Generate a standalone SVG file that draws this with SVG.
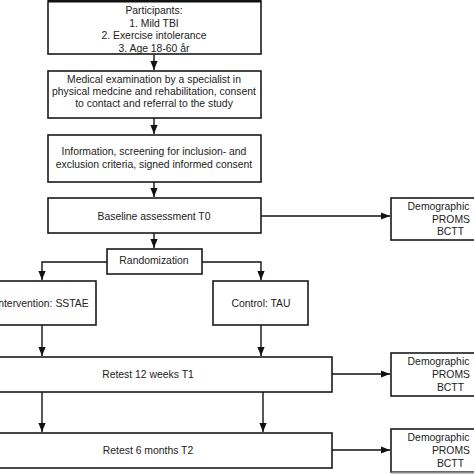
<svg xmlns="http://www.w3.org/2000/svg" width="474" height="474" viewBox="0 0 474 474">
<defs>
<style>
.box{fill:#fff;stroke:#1a1a1a;stroke-width:1.6}
.t{font-family:"Liberation Sans",Arial,sans-serif;font-size:10.4px;fill:#222;text-anchor:middle}
.ln{fill:none;stroke:#111;stroke-width:1.4}
</style>
<marker id="ah" viewBox="0 0 10 8" refX="10" refY="4" markerWidth="9" markerHeight="7.5" markerUnits="userSpaceOnUse" orient="auto">
<path d="M0,0 L10,4 L0,8 z" fill="#111"/>
</marker>
</defs>
<rect width="474" height="474" fill="#fff"/>
<g id="connectors">
<line class="ln" x1="154" y1="55" x2="154" y2="70" marker-end="url(#ah)"/>
<line class="ln" x1="154" y1="118" x2="154" y2="134" marker-end="url(#ah)"/>
<line class="ln" x1="154" y1="182" x2="154" y2="197" marker-end="url(#ah)"/>
<line class="ln" x1="261" y1="216" x2="390" y2="216" marker-end="url(#ah)"/>
<line class="ln" x1="154" y1="233" x2="154" y2="248" marker-end="url(#ah)"/>
<polyline class="ln" points="107,262 42,262 42,280" marker-end="url(#ah)"/>
<polyline class="ln" points="202,262 261,262 261,280" marker-end="url(#ah)"/>
<line class="ln" x1="42" y1="325" x2="42" y2="356" marker-end="url(#ah)"/>
<line class="ln" x1="261" y1="325" x2="261" y2="356" marker-end="url(#ah)"/>
<line class="ln" x1="332" y1="374" x2="390" y2="374" marker-end="url(#ah)"/>
<line class="ln" x1="42" y1="392" x2="42" y2="432" marker-end="url(#ah)"/>
<line class="ln" x1="263" y1="392" x2="263" y2="432" marker-end="url(#ah)"/>
<line class="ln" x1="332" y1="450" x2="390" y2="450" marker-end="url(#ah)"/>
</g>
<g id="participants">
<rect class="box" x="48" y="1" width="213" height="53"/>
<line x1="48" y1="1" x2="261" y2="1" stroke="#111" stroke-width="3"/>
<text class="t" x="154" y="13.5">Participants:</text>
<text class="t" x="154" y="26.5">1. Mild TBI</text>
<text class="t" x="154" y="39">2. Exercise intolerance</text>
<text class="t" x="154" y="52">3. Age 18-60 år</text>
</g>
<g id="medical">
<rect class="box" x="48" y="71" width="213" height="47"/>
<text class="t" x="154" y="83">Medical examination by a specialist in</text>
<text class="t" x="154" y="95">physical medcine and rehabilitation, consent</text>
<text class="t" x="154" y="107">to contact and referral to the study</text>
</g>
<g id="information">
<rect class="box" x="48" y="135" width="213" height="47"/>
<text class="t" x="154" y="155">Information, screening for inclusion- and</text>
<text class="t" x="154" y="168">exclusion criteria, signed informed consent</text>
</g>
<g id="baseline">
<rect class="box" x="48" y="198" width="213" height="35"/>
<text class="t" x="154" y="220">Baseline assessment T0</text>
</g>
<g id="demo0">
<rect class="box" x="391" y="198" width="100" height="42"/>
<text class="t" x="438.5" y="210">Demographic</text>
<text class="t" x="451" y="223">PROMS</text>
<text class="t" x="450.5" y="235">BCTT</text>
</g>
<g id="randomization">
<rect class="box" x="107" y="249" width="95" height="25"/>
<text class="t" x="154" y="264">Randomization</text>
</g>
<g id="intervention">
<rect class="box" x="-12" y="281" width="108" height="44"/>
<text class="t" x="42" y="307">Intervention: SSTAE</text>
</g>
<g id="control">
<rect class="box" x="213" y="281" width="95" height="44"/>
<text class="t" x="261" y="307">Control: TAU</text>
</g>
<g id="retest1">
<rect class="box" x="-10" y="357" width="342" height="35"/>
<text class="t" x="148" y="378">Retest 12 weeks T1</text>
</g>
<g id="demo1">
<rect class="box" x="391" y="353" width="100" height="43"/>
<text class="t" x="438.5" y="365">Demographic</text>
<text class="t" x="451" y="378">PROMS</text>
<text class="t" x="450.5" y="391">BCTT</text>
</g>
<g id="retest2">
<rect class="box" x="-10" y="433" width="342" height="35"/>
<text class="t" x="148" y="454">Retest 6 months T2</text>
</g>
<g id="demo2">
<rect class="box" x="391" y="429" width="100" height="43"/>
<line x1="391" y1="472.5" x2="474" y2="472.5" stroke="#888" stroke-width="2"/>
<text class="t" x="438.5" y="441">Demographic</text>
<text class="t" x="451" y="454">PROMS</text>
<text class="t" x="450.5" y="467">BCTT</text>
</g>
</svg>
